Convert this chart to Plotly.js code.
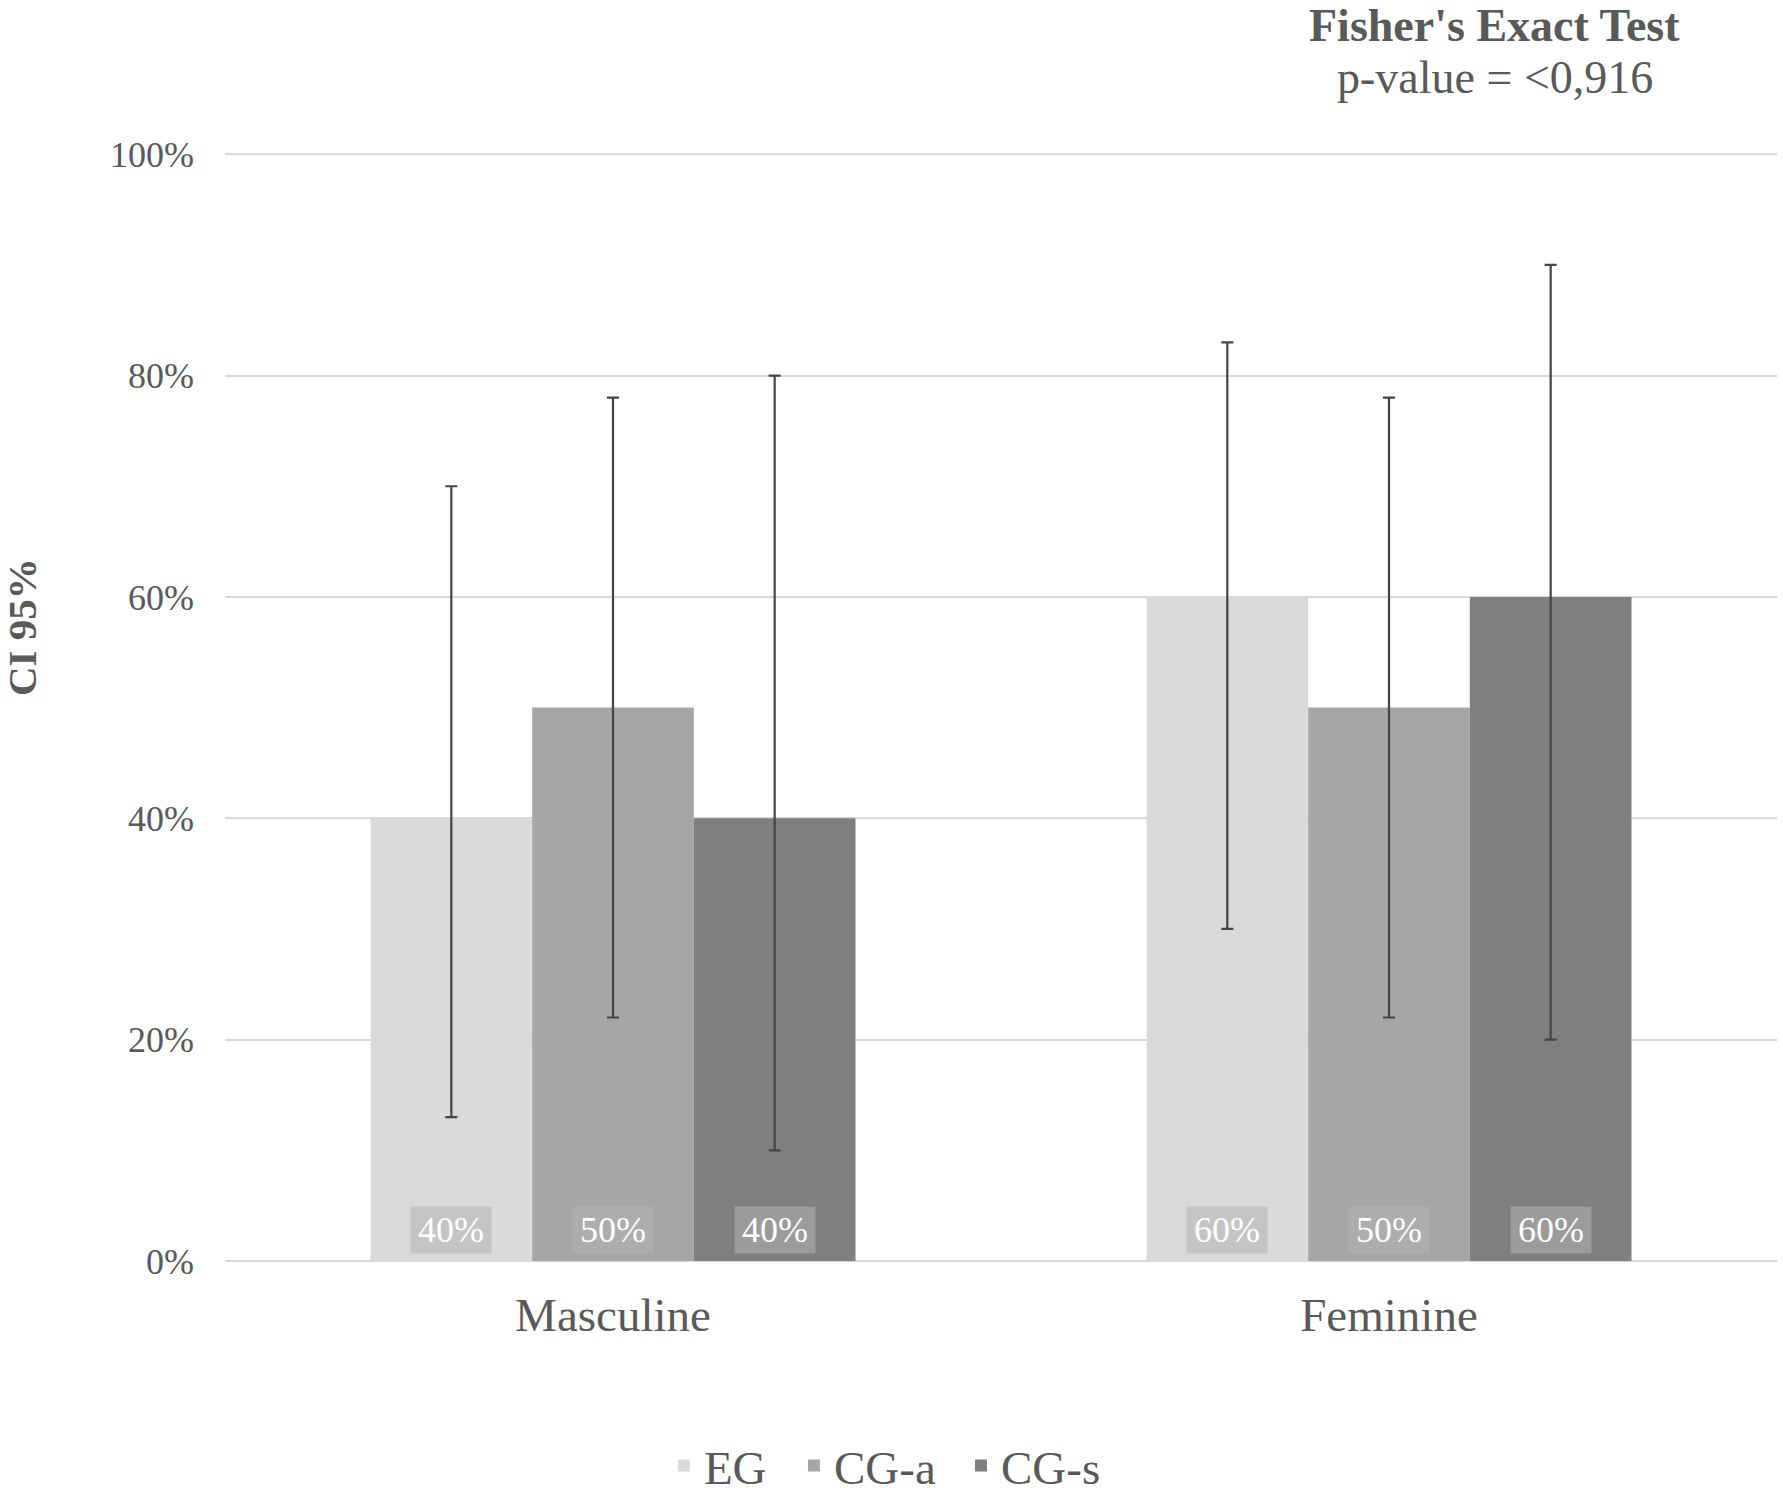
<!DOCTYPE html>
<html>
<head>
<meta charset="utf-8">
<script src="https://cdn.plot.ly/plotly-3.0.1.min.js"></script>
<style>html,body{margin:0;padding:0;background:#fff;}#chart{width:1783px;height:1510px;}</style>
</head>
<body>
<div id="chart"></div>
<script>
// ---- data ----
const categories = ["Masculine", "Feminine"];
const seriesNames = ["EG", "CG-a", "CG-s"];
const egValues = [0.40, 0.60];
const cgaValues = [0.50, 0.50];
const cgsValues = [0.40, 0.60];
const egLow = [0.13, 0.30];
const egHigh = [0.70, 0.83];
const cgaLow = [0.22, 0.22];
const cgaHigh = [0.78, 0.78];
const cgsLow = [0.10, 0.20];
const cgsHigh = [0.80, 0.90];
const yTickVals = [0, 0.2, 0.4, 0.6, 0.8, 1.0];
const yTickText = ["0%", "20%", "40%", "60%", "80%", "100%"];
const titleLine1 = "Fisher's Exact Test";
const titleLine2 = "p-value = <0,916";
const yAxisTitle = "CI 95%";

// ---- styles ----
const colors = ["#d9d9d9", "#a6a6a6", "#7f7f7f"];
const textColor = "#595959";
const fontFamily = "Liberation Serif, Times New Roman, serif";
const bargap = 0.375;
const legendIds = ["legend", "legend2", "legend3"];
const legendX = [0.2828, 0.3666, 0.4742];

const values = [egValues, cgaValues, cgsValues];
const lows = [egLow, cgaLow, cgsLow];
const highs = [egHigh, cgaHigh, cgsHigh];

const traces = seriesNames.map((name, i) => ({
  type: "bar",
  name: name,
  x: categories,
  y: values[i],
  legend: legendIds[i],
  marker: {color: colors[i], line: {width: 0}},
  error_y: {
    type: "data",
    symmetric: false,
    array: values[i].map((v, k) => highs[i][k] - v),
    arrayminus: values[i].map((v, k) => v - lows[i][k]),
    color: "#444444",
    thickness: 2.2,
    width: 6
  },
  hoverinfo: "none"
}));

// data labels at the base of each bar
const nS = seriesNames.length;
const barW = (1 - bargap) / nS;
const annotations = [];
values.forEach((arr, i) => {
  arr.forEach((v, k) => {
    annotations.push({
      xref: "x", yref: "y",
      x: k + (i - (nS - 1) / 2) * barW,
      y: 0,
      yanchor: "bottom",
      yshift: 7,
      text: Math.round(v * 100) + "%",
      showarrow: false,
      font: {family: fontFamily, size: 36, color: "#ffffff"},
      bgcolor: "rgba(178,178,178,0.55)",
      width: 80,
      height: 46,
      borderpad: 0
    });
  });
});
annotations.push({
  xref: "paper", yref: "paper", x: 0.818, y: 1, xanchor: "center", yanchor: "middle",
  yshift: 127, showarrow: false,
  text: "<b>" + titleLine1 + "</b>",
  font: {family: fontFamily, size: 46, color: textColor}
});
annotations.push({
  xref: "paper", yref: "paper", x: 0.818, y: 1, xanchor: "center", yanchor: "middle",
  yshift: 75, showarrow: false,
  text: titleLine2,
  font: {family: fontFamily, size: 46, color: textColor}
});
// y-axis title
annotations.push({
  xref: "paper", yref: "paper", x: 0, y: 0.5716, xanchor: "center", yanchor: "middle",
  xshift: -203, showarrow: false, textangle: -90,
  text: "<b>" + yAxisTitle + "</b>",
  font: {family: fontFamily, size: 41, color: textColor}
});

const layout = {
  width: 1783,
  height: 1510,
  margin: {l: 225, r: 6, t: 152, b: 231},
  paper_bgcolor: "#ffffff",
  plot_bgcolor: "#ffffff",
  barmode: "group",
  bargap: bargap,
  bargroupgap: 0,
  showlegend: true,
  xaxis: {
    type: "category",
    showgrid: false,
    showline: false,
    ticks: "",
    ticklabelstandoff: 22,
    tickfont: {family: fontFamily, size: 47, color: textColor},
    fixedrange: true
  },
  yaxis: {
    range: [0, 1.002],
    tickvals: yTickVals,
    ticktext: yTickText,
    showgrid: true,
    gridcolor: "#d9d9d9",
    gridwidth: 2,
    zeroline: true,
    zerolinecolor: "#d9d9d9",
    zerolinewidth: 2,
    showline: false,
    ticks: "",
    ticklabelstandoff: 30,
    tickfont: {family: fontFamily, size: 36, color: textColor},
    automargin: false,
    fixedrange: true
  },
  annotations: annotations
};
legendIds.forEach((id, i) => {
  layout[id] = {
    orientation: "h",
    x: legendX[i], xanchor: "left",
    y: -0.1849, yanchor: "middle",
    bgcolor: "rgba(0,0,0,0)",
    font: {family: fontFamily, size: 47, color: textColor}
  };
});

Plotly.newPlot("chart", traces, layout, {displayModeBar: false, staticPlot: true});
</script>
</body>
</html>
